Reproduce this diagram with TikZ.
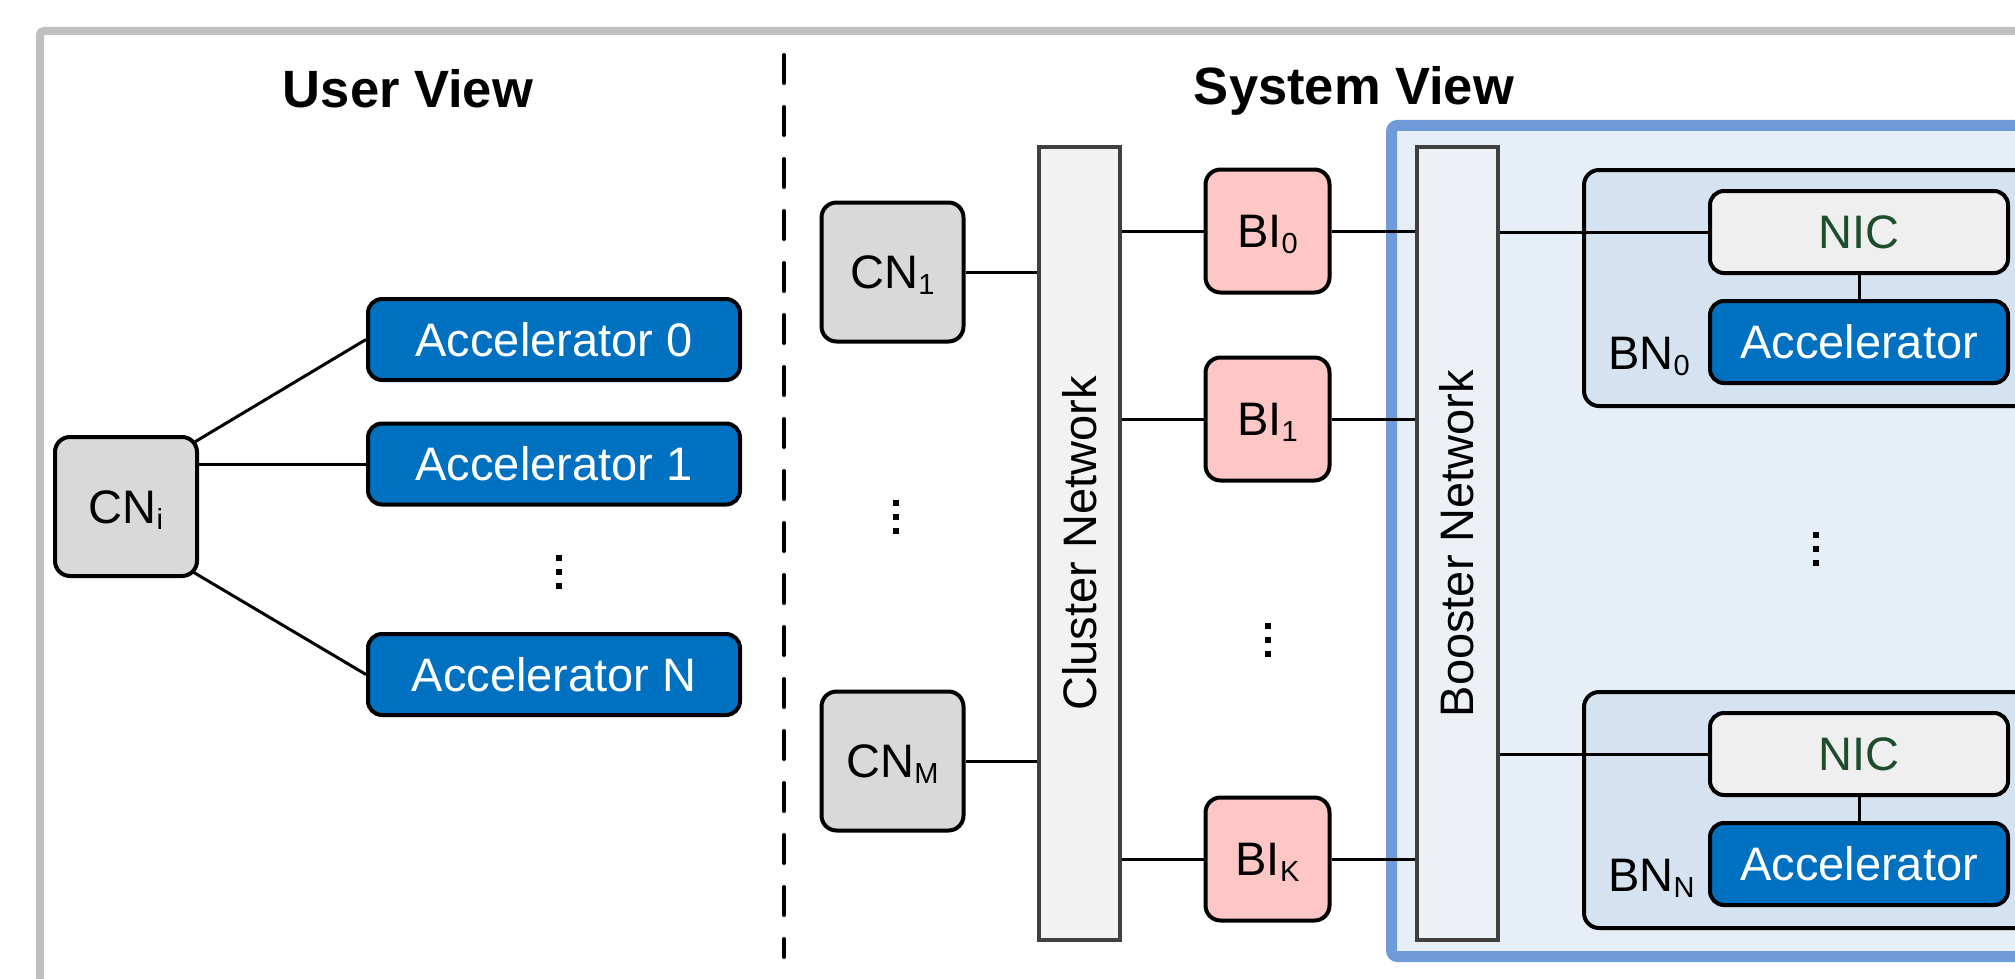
\documentclass[tikz,border=0pt]{standalone}
\usepackage{fontspec}
\setmainfont{Liberation Sans}
\usetikzlibrary{calc}
\definecolor{frameG}{HTML}{BFBFBF}
\definecolor{cnG}{HTML}{D9D9D9}
\definecolor{accB}{HTML}{0070C0}
\definecolor{biP}{HTML}{FFC6C6}
\definecolor{netF}{HTML}{F2F2F2}
\definecolor{netB}{HTML}{404040}
\definecolor{boostF}{HTML}{EDF0F5}
\definecolor{blueS}{HTML}{6F9BD8}
\definecolor{blueF}{HTML}{E6EEF8}
\definecolor{bnF}{HTML}{D5E2F0}
\definecolor{nicF}{HTML}{EFEFEF}
\definecolor{nicT}{HTML}{1E4D2B}
\newcommand{\sbs}[1]{\raisebox{-6pt}{\fontsize{29pt}{29pt}\selectfont #1}}
\begin{document}
\begin{tikzpicture}[x=1pt,y=-1pt,
  txt/.style={font=\fontsize{47pt}{50pt}\selectfont, text height=33.5pt, text depth=0pt},
  base/.style={txt, draw=black, line width=4pt, rounded corners=15pt, inner sep=0pt},
  cnbox/.style={base, fill=cnG, minimum width=142pt, minimum height=139pt},
  accbox/.style={base, fill=accB, text=white, minimum width=372pt, minimum height=81pt, rounded corners=14pt},
  bibox/.style={base, fill=biP, minimum width=124pt, minimum height=123pt},
  netbox/.style={draw=netB, line width=4pt, inner sep=0pt, minimum width=81pt, minimum height=793pt},
  nicbox/.style={base, fill=nicF, text=nicT, minimum width=298pt, minimum height=82pt, rounded corners=14pt},
  baccbox/.style={accbox, minimum width=298pt, minimum height=82pt},
  bnbox/.style={draw=black, line width=4pt, fill=bnF, rounded corners=15pt, inner sep=0pt, anchor=north west},
  link/.style={draw=black, line width=3pt},
  title/.style={font=\fontsize{52.5pt}{56pt}\selectfont\bfseries, inner sep=0pt, anchor=base},
  lbl/.style={font=\fontsize{47pt}{50pt}\selectfont, inner sep=0pt, anchor=base west},
  vdots/.pic={\foreach \d in {-14,0,14} \fill (-2.8,\d-2.8) rectangle (2.8,\d+2.8);}
]
\useasboundingbox (0,0) rectangle (2015,979);
\clip (0,0) rectangle (2015,979);
\fill[white] (0,0) rectangle (2015,979);
% outer frame
\draw[frameG, line width=8pt, rounded corners=4pt] (40,31) rectangle (2400,1400);
% titles
\node[title] (tuser) at (408,108) {User View};
\node[title] (tsys) at (1354,105) {System View};
% divider
\draw[black, line width=4pt, line cap=round, dash pattern=on 28pt off 24pt] (784,55) -- (784,957);

% ---- user view ----
\node[cnbox] (cni) at (126,506.5) {CN\sbs{i}};
\node[accbox] (acc0) at (554,339.5) {Accelerator 0};
\node[accbox] (acc1) at (554,464) {Accelerator 1};
\node[accbox] (accn) at (554,674.5) {Accelerator N};
\pic at (559,572) {vdots};
\draw[link] ($(cni.north east)+(-6,8)$) -- (acc0.west);
\draw[link] (acc1.west -| cni.east) -- (acc1.west);
\draw[link] ($(cni.south east)+(-6,-6)$) -- (accn.west);

% ---- system view ----
\node[bnbox, draw=blueS, fill=blueF, line width=11pt, rounded corners=6pt, minimum width=900pt, minimum height=831pt] (barea) at (1386,120) {};
\node[cnbox] (cn1) at (892.5,272) {CN\sbs{1}};
\node[cnbox] (cnm) at (892.5,761) {CN\sbs{M}};
\pic at (896,517) {vdots};
\node[netbox, fill=netF] (cluster) at (1079.5,543.5) {};
\node[txt, rotate=90, inner sep=0pt] (clusterlbl) at (cluster.center) {Cluster Network};
\node[bibox] (bi0) at (1267.5,231) {BI\sbs{0}};
\node[bibox] (bi1) at (1267.5,419) {BI\sbs{1}};
\node[bibox] (bik) at (1267.5,859) {BI\sbs{K}};
\pic at (1268,640) {vdots};
\node[netbox, fill=boostF] (booster) at (1457,543.5) {};
\node[txt, rotate=90, inner sep=0pt] (boosterlbl) at (booster.center) {Booster Network};

\node[bnbox, minimum width=700pt, minimum height=236pt] (bn0) at (1582,168) {};
\node[nicbox] (nic0) at (1859,232) {NIC};
\node[baccbox] (bacc0) at (1859,342) {Accelerator};
\node[lbl] (bn0lbl) at (1608,369) {BN\sbs{0}};

\node[bnbox, minimum width=700pt, minimum height=236pt] (bnn) at (1582,690) {};
\node[nicbox] (nicn) at (1859,754) {NIC};
\node[baccbox] (baccn) at (1859,864) {Accelerator};
\node[lbl] (bnnlbl) at (1608,891) {BN\sbs{N}};
\pic at (1816,549) {vdots};

% links
\draw[link] (cn1.east) -- (cn1.east -| cluster.west);
\draw[link] (cnm.east) -- (cnm.east -| cluster.west);
\foreach \b in {bi0,bi1,bik}{
  \draw[link] (\b.west -| cluster.east) -- (\b.west);
  \draw[link] (\b.east) -- (\b.east -| booster.west);
}
\draw[link] (nic0.west -| booster.east) -- (nic0.west);
\draw[link] (nicn.west -| booster.east) -- (nicn.west);
\draw[link] (nic0.south) -- (bacc0.north);
\draw[link] (nicn.south) -- (baccn.north);
\end{tikzpicture}
\end{document}
